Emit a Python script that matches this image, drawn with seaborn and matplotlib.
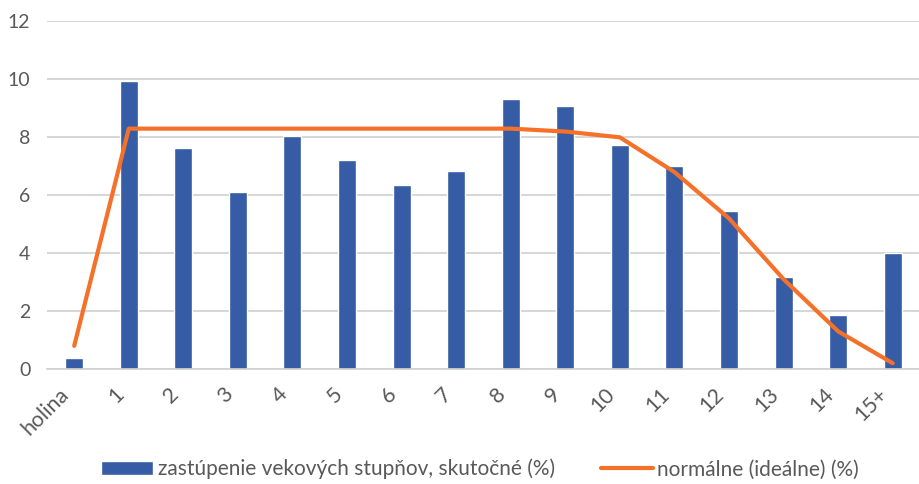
import numpy as np
import pandas as pd
import matplotlib.pyplot as plt
import matplotlib.transforms as mtransforms
import seaborn as sns

categories = ['holina', '1', '2', '3', '4', '5', '6', '7', '8', '9', '10',
              '11', '12', '13', '14', '15+']
actual = [0.38, 9.93, 7.63, 6.1, 8.03, 7.2, 6.37, 6.85, 9.31, 9.07, 7.75,
          7.02, 5.47, 3.18, 1.87, 4.02]
ideal = [0.8, 8.3, 8.3, 8.3, 8.3, 8.3, 8.3, 8.3, 8.3, 8.2, 8.0,
         6.8, 5.2, 3.1, 1.3, 0.2]

bar_label = 'zastúpenie vekových stupňov, skutočné (%)'
line_label = 'normálne (ideálne) (%)'

sns.set_style('white')
plt.rcParams['font.family'] = ['Lato', 'DejaVu Sans']
text_color = '#595959'

df = pd.DataFrame({'cat': categories, 'actual': actual, 'ideal': ideal})

fig = plt.figure(figsize=(9.2, 4.84), dpi=100)
ax = fig.add_axes([0.051, 0.2376, 0.949, 0.718])

sns.barplot(data=df, x='cat', y='actual', color='#355CA5', width=0.33,
            saturation=1, ax=ax, label=bar_label, zorder=2)
sns.lineplot(x=np.arange(len(categories)), y=df['ideal'], color='#F5712A',
             linewidth=3, ax=ax, label=line_label, zorder=3)

ax.set_ylim(0, 12)
ax.set_xlim(-0.5, len(categories) - 0.5)
ax.set_yticks(range(0, 13, 2))
ax.yaxis.grid(True, color='#D0D0D0', linewidth=1.2, zorder=0)
ax.set_axisbelow(True)
ax.set_xlabel('')
ax.set_ylabel('')
for s in ['top', 'right', 'left']:
    ax.spines[s].set_visible(False)
ax.spines['bottom'].set_color('#D0D0D0')
ax.spines['bottom'].set_linewidth(1.2)
ax.tick_params(axis='both', length=0, colors=text_color)
ax.tick_params(axis='y', labelsize=14, pad=12)
ax.tick_params(axis='x', labelsize=15.5, pad=16)
ax.set_xticks(range(len(categories)))
ax.set_xticklabels(categories, rotation=45, ha='right', va='center',
                   rotation_mode='anchor')
# nudge the rotated labels a little left, like in the original
shift = mtransforms.ScaledTranslation(-0.08, 0, fig.dpi_scale_trans)
for lbl in ax.get_xticklabels():
    lbl.set_transform(lbl.get_transform() + shift)

handles, labels = ax.get_legend_handles_labels()
order = [labels.index(bar_label), labels.index(line_label)]
ax.legend([handles[i] for i in order], [labels[i] for i in order],
          loc='center', bbox_to_anchor=(0.496, -0.288), ncol=2, frameon=False,
          fontsize=15, labelcolor=text_color, handlelength=2.5, handletextpad=0.2,
          columnspacing=2.2)

fig.savefig('out.png', dpi=100)
